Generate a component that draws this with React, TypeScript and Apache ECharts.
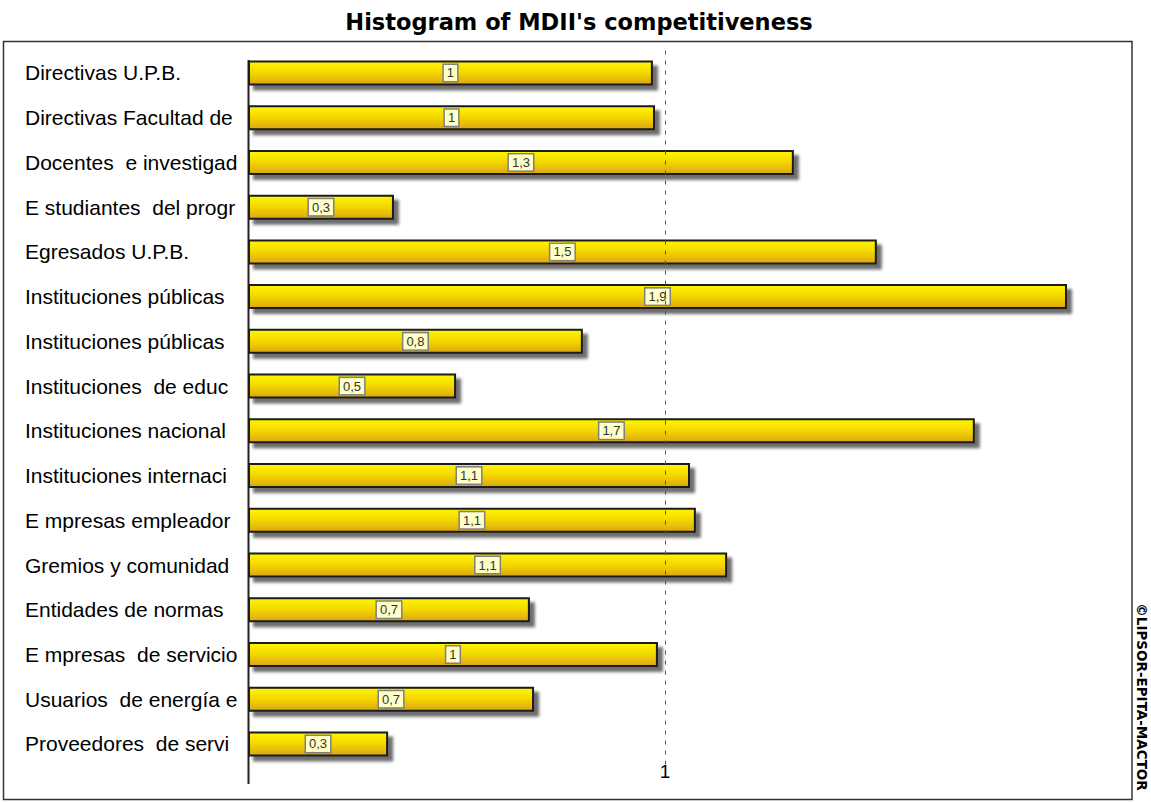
import React, { useEffect, useRef } from "react";
import * as echarts from "echarts";

const categories = [
  "Directivas U.P.B.",
  "Directivas Facultad de",
  "Docentes  e investigad",
  "E studiantes  del progr",
  "Egresados U.P.B.",
  "Instituciones públicas",
  "Instituciones públicas",
  "Instituciones  de educ",
  "Instituciones nacional",
  "Instituciones internaci",
  "E mpresas empleador",
  "Gremios y comunidad",
  "Entidades de normas",
  "E mpresas  de servicio",
  "Usuarios  de energía e",
  "Proveedores  de servi",
];

const values = [
  0.971, 0.976, 1.309, 0.35, 1.508, 1.964, 0.803, 0.499, 1.743, 1.06, 1.074,
  1.149, 0.676, 0.983, 0.686, 0.336,
];

const valueLabels = [
  "1", "1", "1,3", "0,3", "1,5", "1,9", "0,8", "0,5", "1,7", "1,1", "1,1",
  "1,1", "0,7", "1", "0,7", "0,3",
];

const titleText = "Histogram of MDII's competitiveness";
const copyrightText = "©LIPSOR-EPITA-MACTOR";

export default function App() {
  const ref = useRef<HTMLDivElement>(null);

  useEffect(() => {
    if (!ref.current) return;
    const chart = echarts.init(ref.current, undefined, { renderer: "svg" });
    chart.setOption({
      animation: false,
      backgroundColor: "#ffffff",
      title: {
        text: titleText,
        left: 574,
        textAlign: "center",
        top: 5,
        textStyle: {
          fontFamily: "DejaVu Sans",
          fontWeight: "bold",
          fontSize: 22.5,
          color: "#000",
        },
      },
      grid: {
        left: 248,
        right: 1151 - 1100,
        top: 50.6,
        bottom: 802 - 766.3,
        containLabel: false,
      },
      xAxis: {
        type: "value",
        min: 0,
        max: (1100 - 248) / 417,
        interval: 1,
        axisLine: { show: false },
        axisTick: { show: false },
        splitLine: { show: false },
        axisLabel: {
          margin: -4,
          fontFamily: "Liberation Sans",
          fontSize: 19,
          color: "#000",
          formatter: (v: number) => (v === 1 ? "1" : ""),
        },
      },
      yAxis: {
        type: "category",
        data: categories,
        inverse: true,
        axisLine: { show: false },
        axisTick: { show: false },
        splitLine: { show: false },
        axisLabel: {
          align: "left",
          margin: 248 - 25,
          fontFamily: "Liberation Sans",
          fontSize: 21,
          color: "#000",
        },
      },
      series: [
        {
          type: "bar",
          data: values,
          barWidth: 25,
          itemStyle: {
            color: new echarts.graphic.LinearGradient(0, 0, 0, 1, [
              { offset: 0, color: "#fff700" },
              { offset: 0.5, color: "#f3d600" },
              { offset: 1, color: "#dba514" },
            ]),
            borderColor: "#1a1a1a",
            borderWidth: 2,
            shadowColor: "rgba(60,60,60,0.75)",
            shadowBlur: 3,
            shadowOffsetX: 5,
            shadowOffsetY: 5,
          },
          label: {
            show: true,
            position: "inside",
            formatter: (p: any) => valueLabels[p.dataIndex],
            fontFamily: "Liberation Sans",
            fontSize: 13,
            color: "#333",
            backgroundColor: "#ffffc8",
            borderColor: "#808080",
            borderWidth: 1.5,
            padding: [2, 3, 1, 3],
          },
          markLine: {
            silent: true,
            symbol: ["none", "none"],
            label: { show: false },
            lineStyle: {
              color: "#555",
              type: [4, 6],
              width: 1,
            },
            data: [{ xAxis: 1 }],
          },
        },
      ],
      graphic: [
        {
          type: "rect",
          shape: { x: 3.5, y: 41.5, width: 1128.5, height: 758 },
          style: { fill: "none", stroke: "#333", lineWidth: 1.5 },
          silent: true,
          z: -1,
        },
        {
          type: "line",
          shape: { x1: 248.5, y1: 60, x2: 248.5, y2: 784 },
          style: { stroke: "#222", lineWidth: 2 },
          silent: true,
        },
        {
          type: "text",
          x: 1142,
          y: 697,
          rotation: -Math.PI / 2,
          style: {
            text: copyrightText,
            fontFamily: "DejaVu Sans",
            fontWeight: "bold",
            fontSize: 13.5,
            fill: "#000",
            align: "center",
            verticalAlign: "middle",
          },
          silent: true,
        },
      ],
    });
    return () => chart.dispose();
  }, []);

  return <div ref={ref} style={{ width: 1151, height: 802, position: "absolute", left: 0, top: 0 }} />;
}
